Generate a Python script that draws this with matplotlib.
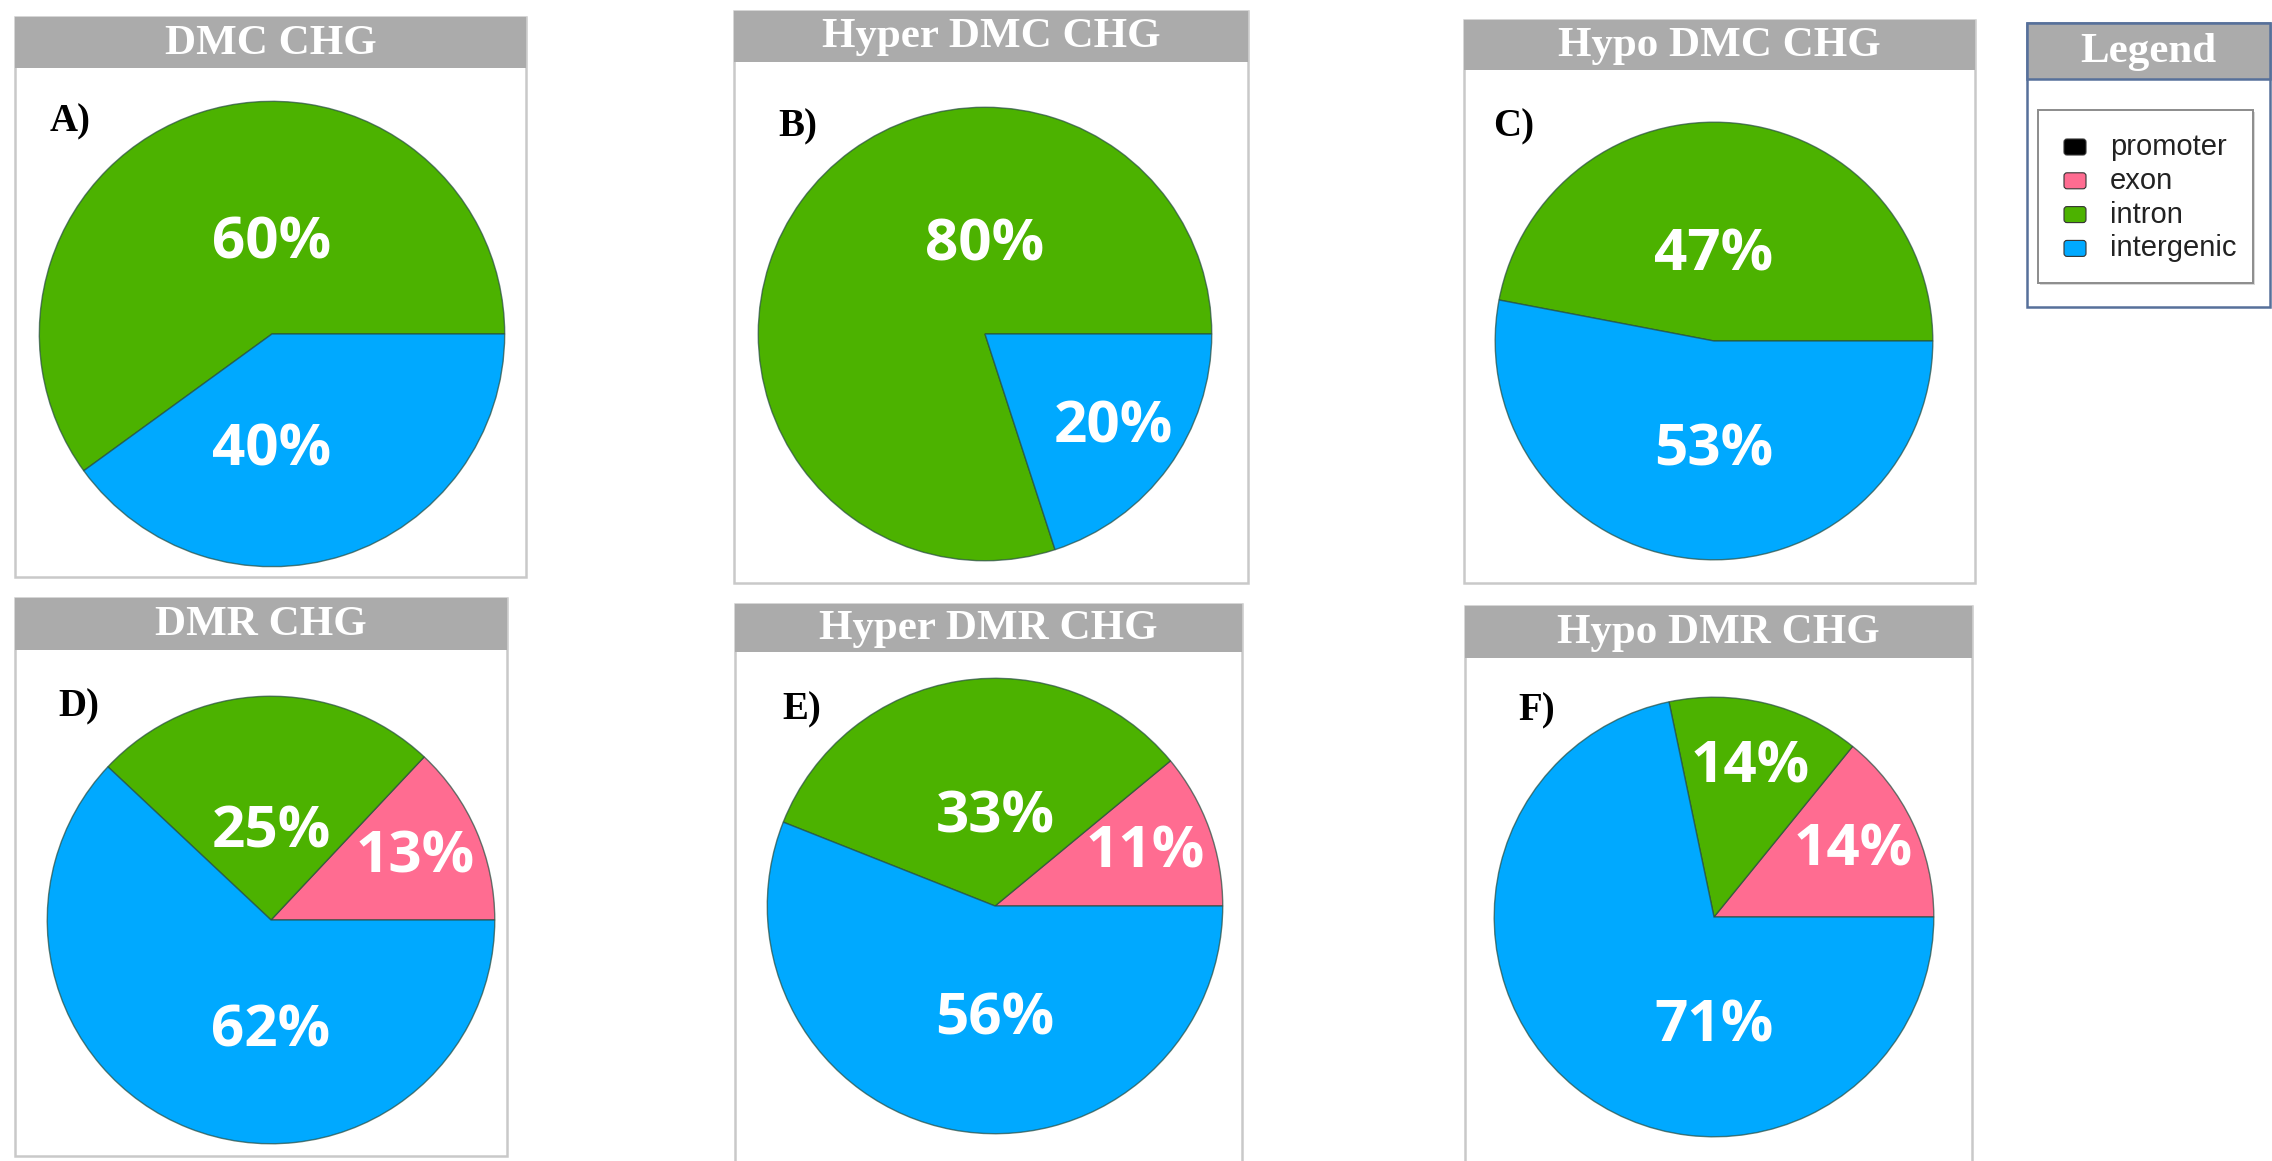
import numpy as np
import matplotlib.pyplot as plt
from matplotlib.patches import Rectangle, FancyBboxPatch

W, H = 2272, 1161

# genomic feature categories, drawn counter-clockwise from 3 o'clock
categories = ["promoter", "exon", "intron", "intergenic"]
cat_colors = ["#000000", "#FF6C91", "#4CB200", "#00A9FF"]

titles = ["DMC CHG", "Hyper DMC CHG", "Hypo DMC CHG",
          "DMR CHG", "Hyper DMR CHG", "Hypo DMR CHG"]
letters = ["A)", "B)", "C)", "D)", "E)", "F)"]

# percentages: promoter, exon, intron, intergenic
dmc_chg = [0, 0, 60, 40]
hyper_dmc_chg = [0, 0, 80, 20]
hypo_dmc_chg = [0, 0, 47, 53]
dmr_chg = [0, 13, 25, 62]
hyper_dmr_chg = [0, 11, 33, 56]
hypo_dmr_chg = [0, 14, 14, 71]

panel_values = [dmc_chg, hyper_dmc_chg, hypo_dmc_chg,
                dmr_chg, hyper_dmr_chg, hypo_dmr_chg]

# panel layout in pixels: box (x0, y0, x1, y1), header bottom, pie centre, radius, letter
layout = [
    dict(box=(15, 17, 526, 577), hb=68, c=(272, 334), r=235, let=(50, 122)),
    dict(box=(734, 11, 1248, 583), hb=62, c=(985, 334), r=229, let=(778, 127)),
    dict(box=(1464, 20, 1975, 583), hb=70, c=(1714, 341), r=221, let=(1493, 127)),
    dict(box=(15, 598, 507, 1156), hb=650, c=(271, 920), r=226, let=(58, 707)),
    dict(box=(735, 604, 1242, 1175), hb=652, c=(995, 906), r=230, let=(782, 710)),
    dict(box=(1465, 606, 1972, 1175), hb=658, c=(1714, 917), r=222, let=(1518, 711)),
]

HEADER_GRAY = "#ababab"
BOX_GRAY = "#c9c9c9"
SERIF = ["Liberation Serif", "DejaVu Serif"]

fig = plt.figure(figsize=(W / 100, H / 100), dpi=100)
fig.patch.set_facecolor("white")

# page-level axes in pixel units for frames, headers and letters
bg = fig.add_axes([0, 0, 1, 1])
bg.set_xlim(0, W)
bg.set_ylim(H, 0)
bg.axis("off")

for title, letter, lay in zip(titles, letters, layout):
    x0, y0, x1, y1 = lay["box"]
    bg.add_patch(Rectangle((x0, y0), x1 - x0, y1 - y0, facecolor="white",
                           edgecolor=BOX_GRAY, linewidth=1.8))
    bg.add_patch(Rectangle((x0, y0), x1 - x0, lay["hb"] - y0,
                           facecolor=HEADER_GRAY, edgecolor="none"))
    bg.text((x0 + x1) / 2, (y0 + lay["hb"]) / 2 + 1, title, color="white",
            fontsize=31, fontweight="bold", family=SERIF,
            ha="center", va="center")
    bg.text(lay["let"][0], lay["let"][1], letter, color="black",
            fontsize=28, fontweight="bold", family=SERIF,
            ha="left", va="center")

# legend panel
lx0, ly0, lx1, ly1, lhb = 2027, 23, 2270, 307, 79
bg.add_patch(Rectangle((lx0, ly0), lx1 - lx0, ly1 - ly0, facecolor="white",
                       edgecolor="#56709a", linewidth=1.8))
bg.add_patch(Rectangle((lx0, ly0), lx1 - lx0, lhb - ly0,
                       facecolor=HEADER_GRAY, edgecolor="#56709a", linewidth=1.8))
bg.text((lx0 + lx1) / 2, (ly0 + lhb) / 2 + 1, "Legend", color="white",
        fontsize=31, fontweight="bold", family=SERIF, ha="center", va="center")
bg.add_patch(Rectangle((2040, 112), 215, 173, facecolor="#d8d8d8",
                       edgecolor="none"))
bg.add_patch(Rectangle((2038, 110), 215, 173, facecolor="white",
                       edgecolor="#8c8c8c", linewidth=1.4))
for i, (cat, col) in enumerate(zip(categories, cat_colors)):
    yy = 147 + i * 33.8
    bg.add_patch(FancyBboxPatch((2064, yy - 8), 22, 16,
                                boxstyle="round,pad=0,rounding_size=3",
                                facecolor=col, edgecolor="#333333", linewidth=0.8))
    bg.text(2110, yy, cat, fontsize=21, family=["Liberation Sans", "DejaVu Sans"],
            color="#222222", ha="left", va="center")

# pies
for vals, lay in zip(panel_values, layout):
    cx, cy = lay["c"]
    r = lay["r"]
    ax = fig.add_axes([(cx - r) / W, 1 - (cy + r) / H, 2 * r / W, 2 * r / H])
    shown = [(v, c) for v, c in zip(vals, cat_colors) if v > 0]
    sizes = [v for v, _ in shown]
    wedges, _ = ax.pie(sizes, colors=[c for _, c in shown], startangle=0,
                       counterclock=True, radius=1,
                       wedgeprops=dict(edgecolor=(0.15, 0.3, 0.25, 0.7),
                                       linewidth=1.0))
    total = float(sum(sizes))
    for w, v in zip(wedges, sizes):
        mid = np.deg2rad((w.theta1 + w.theta2) / 2)
        if v / total < 0.22:
            # narrow slices: label along the bisector, near the rim
            tx, ty = 0.70 * np.cos(mid), 0.70 * np.sin(mid)
        else:
            # wide slices: label on the vertical axis, above or below centre
            tx = 0.0
            ty = 0.39 if np.sin(mid) > 0 else -0.50
        ax.text(tx, ty, f"{v}%", color="white", fontsize=42, fontweight="bold",
                family=["Open Sans", "DejaVu Sans"], ha="center", va="center")
    ax.set_xlim(-1.01, 1.01)
    ax.set_ylim(-1.01, 1.01)
    ax.set_aspect("equal")
    ax.axis("off")

fig.savefig("out.png", dpi=100)
